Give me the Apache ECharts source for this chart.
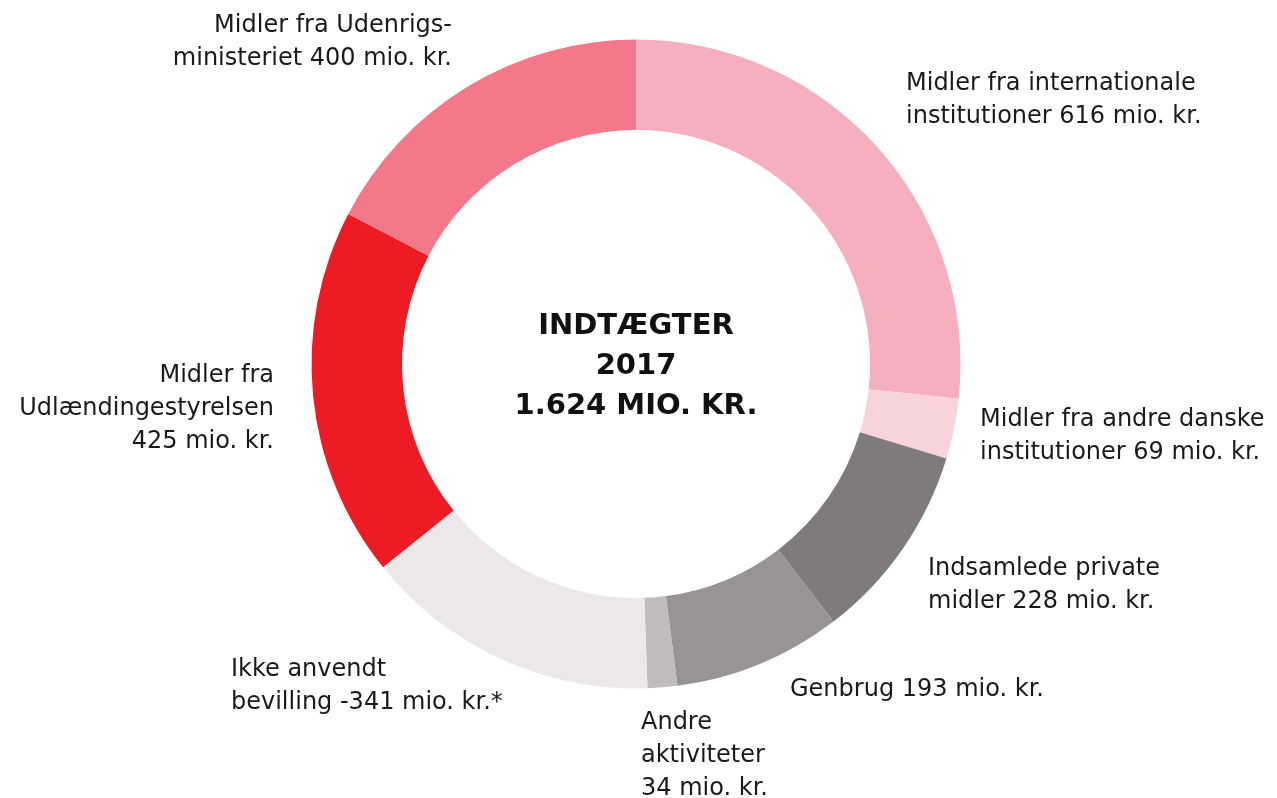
<!DOCTYPE html>
<html>
<head>
<meta charset="utf-8">
<script src="https://cdn.jsdelivr.net/npm/echarts@6/dist/echarts.min.js"></script>
<style>
  html, body { margin: 0; padding: 0; background: #fff; }
  #chart { width: 1277px; height: 798px; }
</style>
</head>
<body>
<div id="chart"></div>
<script>
// slices, clockwise from 12 o'clock
const labels = [
    "Midler fra internationale\ninstitutioner 616 mio. kr.",
    "Midler fra andre danske\ninstitutioner 69 mio. kr.",
    "Indsamlede private\nmidler 228 mio. kr.",
    "Genbrug 193 mio. kr.",
    "Andre\naktiviteter\n34 mio. kr.",
    "Ikke anvendt\nbevilling -341 mio. kr.*",
    "Midler fra\nUdlændingestyrelsen\n425 mio. kr.",
    "Midler fra Udenrigs-\nministeriet 400 mio. kr.",
];
const values = [616, 69, 228, 193, 34, -341, 425, 400];
const colors = ["#F6AFBE", "#F9D3DB", "#7F7B7C", "#989496", "#C0BCBD", "#EBE7EB", "#ED1C24", "#F37889"];
const centerLines = ["INDTÆGTER", "2017", "1.624 MIO. KR."];

// where each label's text block sits (anchor x, top y, alignment)
const labelPos = [
    [906, 67, "left"],
    [980, 403, "left"],
    [928, 552, "left"],
    [790, 673, "left"],
    [641, 706, "left"],
    [231, 653, "left"],
    [274, 359, "right"],
    [452, 9, "right"],
];

const chart = echarts.init(document.getElementById("chart"));
const font = "'DejaVu Sans', sans-serif";

const option = {
    backgroundColor: "#fff",
    animation: false,
    graphic: [{
        type: "text",
        x: 636,
        y: 366,
        style: {
            text: centerLines.join("\n"),
            align: "center",
            verticalAlign: "middle",
            font: "bold 29px " + font,
            lineHeight: 40,
            fill: "#111",
        },
    }],
    series: [{
        type: "pie",
        center: [636, 364],
        radius: [234, 324.5],
        startAngle: 90,
        clockwise: true,
        avoidLabelOverlap: false,
        data: values.map((v, i) => ({
            value: Math.abs(v),
            name: labels[i],
            itemStyle: { color: colors[i] },
        })),
        label: {
            show: true,
            formatter: "{b}",
            fontFamily: font,
            fontSize: 24,
            lineHeight: 33,
            color: "#1a1a1a",
        },
        labelLine: { show: false },
        labelLayout: (p) => {
            const [x, y, align] = labelPos[p.dataIndex];
            return { x, y, align, verticalAlign: "top" };
        },
        emphasis: { disabled: true },
    }],
};

chart.setOption(option);
</script>
</body>
</html>
